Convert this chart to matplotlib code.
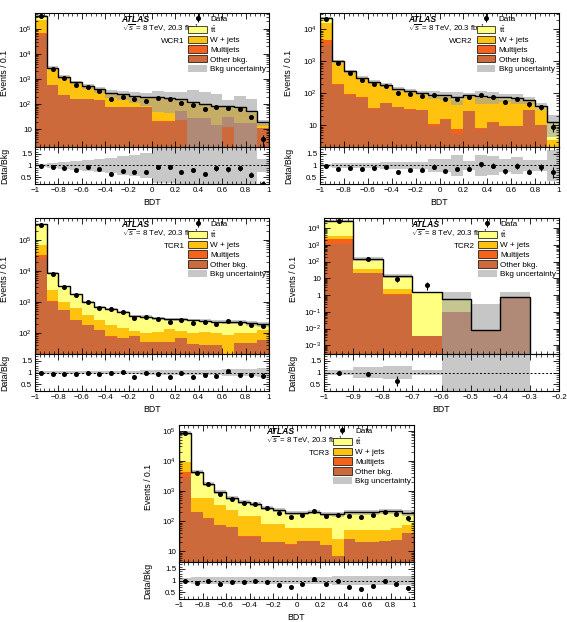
import numpy as np
import matplotlib
matplotlib.use("Agg")
import matplotlib.pyplot as plt
from matplotlib.patches import Patch
from matplotlib.ticker import FixedLocator, FuncFormatter, LogLocator, AutoMinorLocator, NullFormatter

plt.rcParams['font.family'] = ['Liberation Sans', 'DejaVu Sans']
plt.rcParams['mathtext.fontset'] = 'custom'
plt.rcParams['mathtext.rm'] = 'Liberation Sans'
plt.rcParams['mathtext.it'] = 'Liberation Sans:italic'
plt.rcParams['mathtext.bf'] = 'Liberation Sans:bold'

# ---- binning ----
edges_full = np.linspace(-1, 1, 21)
edges_tcr2 = np.linspace(-1, -0.2, 9)

# ---- WCR1 ----
wcr1_other = [59000, 560, 230, 155, 155, 150, 75, 75, 75, 75, 20, 20, 52, 27, 27, 14.5, 31, 17, 17, 10.7]
wcr1_multijet = [11000, 15, 6, 4, 3, 2, 2, 1.5, 1, 1, 1, 1, 1, 0.5, 0.5, 0.5, 0.5, 0.5, 0.3, 0.2]
wcr1_wjets = [160000, 2000, 890, 520, 322, 203, 168, 146, 114, 92, 147, 132, 89, 77, 62, 61, 42, 48, 29, 5.7]
wcr1_ttbar = [110000, 250, 100, 60, 45, 35, 25, 22, 20, 18, 18, 17, 16, 12, 10, 9, 9, 8, 6, 2]
wcr1_data = [330000, 2600, 1080, 590, 483, 332, 167, 189, 155, 136, 177, 160, 111, 96, 64, 75, 69, 65, 31, 4]
wcr1_unc = [0.08, 0.12, 0.15, 0.18, 0.22, 0.27, 0.32, 0.4, 0.47, 0.53, 0.75, 0.75, 0.85, 2.0, 2.0, 2.0, 0.85, 2.0, 2.0, 0.3]

# ---- WCR2 ----
wcr2_other = [3200, 187, 91, 72, 33, 50, 37, 31, 29, 9.3, 15, 5.5, 27.5, 7.9, 11.8, 9.3, 9.3, 29.5, 10, 1.0]
wcr2_multijet = [1400, 5, 3, 2, 1.5, 1, 1, 1, 1, 2, 1, 2, 0.5, 0.5, 0.5, 0.5, 0.5, 0.5, 0.3, 0.2]
wcr2_wjets = [10900, 718, 376, 206, 178, 116, 93, 78, 61, 66, 58, 52, 49, 64, 55, 53, 50, 26, 19, 2.2]
wcr2_ttbar = [6500, 100, 20, 30, 15, 13, 9, 9, 12, 14, 13, 17, 10, 9, 10, 11, 9, 5, 10.5, 9.3]
wcr2_data = [21300, 869, 441, 267, 200, 166, 99, 95, 85, 87, 67, 65, 75, 86, 76, 55, 67, 45, 37, 9]
wcr2_unc = [0.08, 0.12, 0.12, 0.12, 0.12, 0.13, 0.13, 0.15, 0.15, 0.3, 0.3, 0.45, 0.2, 0.45, 0.4, 0.3, 0.35, 0.25, 0.25, 0.65]

# ---- TCR1 ----
tcr1_other = [26000, 1020, 540, 263, 181, 125, 76, 67, 80, 50, 50, 52, 67, 43, 41, 41, 20, 46, 46, 59]
tcr1_multijet = [7000, 20, 10, 5, 3, 2, 2, 1, 1, 1, 1, 1, 1, 1, 1, 1, 1, 1, 1, 1]
tcr1_wjets = [34000, 1410, 480, 362, 198, 136, 103, 81, 35, 51, 59, 81, 48, 58, 68, 55, 65, 50, 50, 65]
tcr1_ttbar = [253000, 6050, 2140, 1150, 648, 447, 419, 321, 249, 236, 187, 143, 161, 161, 140, 136, 147, 136, 108, 70]
tcr1_data = [307000, 7990, 2980, 1655, 989, 660, 582, 489, 296, 338, 276, 224, 266, 213, 225, 200, 249, 210, 185, 168]
tcr1_unc = [0.05, 0.05, 0.05, 0.05, 0.05, 0.06, 0.06, 0.07, 0.08, 0.09, 0.1, 0.1, 0.1, 0.1, 0.1, 0.12, 0.14, 0.15, 0.17, 0.18]

# ---- TCR2 ----
tcr2_other = [1100, 20, 1.0, 0.0035, 0.1, 0.008, 0.8, 0]
tcr2_multijet = [1100, 0.5, 0.1, 0, 0, 0, 0, 0]
tcr2_wjets = [960, 15.5, 1.2, 0, 0, 0, 0, 0]
tcr2_ttbar = [24300, 109, 12.2, 1.45, 0.47, 0, 0, 0]
tcr2_data = [27000, 138, 9, 4, 0, 0, 0, 0]
tcr2_unc = [0.12, 0.25, 0.3, 0.1, 1.5, 34, 1.0, 0]

# ---- TCR3 ----
tcr3_other = [2950, 203, 122, 73, 64, 30, 30, 20, 20, 16.6, 21.5, 21.5, 15.8, 6.8, 26, 20, 20, 21.5, 23, 39]
tcr3_multijet = [1420, 5, 3, 2, 1, 1, 1, 0.5, 0.5, 0.5, 0.5, 0.5, 0.5, 0.3, 0.5, 0.5, 0.5, 0.5, 0.5, 0.5]
tcr3_wjets = [4930, 397, 480, 265, 165, 114, 114, 62, 62, 44, 39, 39, 45, 19, 25, 31, 31, 30, 37, 33]
tcr3_ttbar = [75700, 3765, 1085, 595, 375, 290, 220, 200, 147, 131, 126, 142, 117, 144, 151, 151, 151, 161, 152, 119]
tcr3_data = [83300, 3890, 1690, 804, 557, 409, 358, 269, 182, 134, 161, 219, 153, 165, 144, 132, 156, 207, 177, 131]
tcr3_unc = [0.12, 0.15, 0.15, 0.15, 0.15, 0.15, 0.15, 0.15, 0.15, 0.17, 0.17, 0.17, 0.17, 0.2, 0.2, 0.2, 0.2, 0.2, 0.2, 0.2]

ticks_full = [-1, -0.8, -0.6, -0.4, -0.2, 0, 0.2, 0.4, 0.6, 0.8, 1]
ticks_tcr2 = [-1, -0.9, -0.8, -0.7, -0.6, -0.5, -0.4, -0.3, -0.2]

C_TT = '#ffff80'
C_WJ = '#ffc20e'
C_MJ = '#f5621b'
C_OT = '#cc6a3b'
C_UNC = '#a0a0a0'

FW, FH = 567, 622


def fmt_log(v, pos):
    n = int(round(np.log10(v)))
    if n == 0:
        return '1'
    if n == 1:
        return '10'
    return r'$10^{%d}$' % n


def fmt_x(v, pos):
    return ('%g' % round(v, 2)).replace('-', '\u2212')


def draw(fig, box, edges, tt, wj, mj, ot, data, unc, ylim, region, xticks):
    left, right, top, mid, bottom = box
    ax = fig.add_axes([left / FW, 1 - mid / FH, (right - left) / FW, (mid - top) / FH])
    rx = fig.add_axes([left / FW, 1 - bottom / FH, (right - left) / FW, (bottom - mid) / FH])

    centers = 0.5 * (edges[:-1] + edges[1:])
    floor = ylim[0] * 0.01
    base = np.zeros(len(centers))
    for vals, col in [(ot, C_OT), (mj, C_MJ), (wj, C_WJ), (tt, C_TT)]:
        upper = base + np.asarray(vals, float)
        ax.stairs(np.maximum(upper, floor), edges, baseline=np.maximum(base, floor),
                  fill=True, color=col, lw=0)
        base = upper
    total = base
    unc = np.asarray(unc, float)
    ax.stairs(np.maximum(total * (1 + unc), floor), edges,
              baseline=np.maximum(total * (1 - unc), floor),
              fill=True, color=C_UNC, alpha=0.6, lw=0)
    ax.stairs(np.maximum(total, floor), edges, baseline=floor, color='k', lw=1.0)

    data = np.asarray(data, float)
    err = np.sqrt(data)
    m = data > 0
    eb = ax.errorbar(centers[m], data[m], yerr=err[m], fmt='o', color='k',
                     ms=2.6, lw=0.8, capsize=0)

    # ratio panel
    rx.stairs(1 + unc, edges, baseline=1 - unc, fill=True, color='#c8c8c8', lw=0)
    rx.axhline(1, color='k', ls=(0, (2, 2)), lw=0.7)
    safe = np.where(total > 0, total, 1)
    r = data / safe
    re = err / safe
    show = m & (total > 0) & (r < 1.8)
    rx.errorbar(centers[show], r[show], yerr=re[show], fmt='o', color='k',
                ms=2.6, lw=0.8, capsize=0)

    for a in (ax, rx):
        a.set_xlim(edges[0], xticks[-1])
        a.xaxis.set_major_locator(FixedLocator(xticks))
        a.xaxis.set_minor_locator(AutoMinorLocator(5))
        a.tick_params(which='both', direction='in', top=True, right=True, labelsize=5.8, pad=2)
        a.tick_params(which='major', length=4, width=0.6)
        a.tick_params(which='minor', length=2, width=0.5)
        for s in a.spines.values():
            s.set_linewidth(0.8)

    ax.set_yscale('log')
    ax.set_ylim(*ylim)
    ax.yaxis.set_major_locator(LogLocator(base=10, numticks=30))
    ax.yaxis.set_minor_locator(LogLocator(base=10, subs=np.arange(2, 10), numticks=30))
    ax.yaxis.set_major_formatter(FuncFormatter(fmt_log))
    ax.yaxis.set_minor_formatter(NullFormatter())
    ax.tick_params(labelbottom=False)

    rx.set_ylim(0.2, 1.8)
    rx.yaxis.set_major_locator(FixedLocator([0.5, 1, 1.5]))
    rx.yaxis.set_major_formatter(FuncFormatter(lambda v, p: '%g' % v))
    rx.yaxis.set_minor_locator(AutoMinorLocator(5))
    rx.xaxis.set_major_formatter(FuncFormatter(fmt_x))

    ax.set_ylabel('Events / 0.1', fontsize=6.3)
    ax.yaxis.set_label_coords(-0.112, 0.55)
    rx.set_ylabel('Data/Bkg', fontsize=6.3)
    rx.yaxis.set_label_coords(-0.112, 0.5)
    rx.set_xlabel('BDT', fontsize=6.3, labelpad=3)

    ax.text(0.37, 0.95, 'ATLAS', transform=ax.transAxes, fontsize=6.2, fontweight='bold',
            fontstyle='italic', va='center', ha='left')
    ax.text(0.37, 0.88, r'$\sqrt{s}$ = 8 TeV, 20.3 fb$^{-1}$', transform=ax.transAxes,
            fontsize=5.6, va='center', ha='left')
    ax.text(0.64, 0.79, region, transform=ax.transAxes, fontsize=5.8, va='center', ha='right')

    handles = [eb,
               Patch(fc=C_TT, ec='k', lw=0.5),
               Patch(fc=C_WJ, ec='k', lw=0.5),
               Patch(fc=C_MJ, ec='k', lw=0.5),
               Patch(fc=C_OT, ec='k', lw=0.5),
               Patch(fc=C_UNC, alpha=0.6, lw=0)]
    labels = ['Data', r'$\mathrm{t\bar{t}}$', 'W + jets', 'Multijets', 'Other bkg.', 'Bkg uncertainty']
    ax.legend(handles, labels, loc='upper left', bbox_to_anchor=(0.655, 0.99),
              fontsize=5.9, frameon=False, handlelength=2.3, handleheight=1.0,
              labelspacing=0.15, handletextpad=0.4, borderpad=0, borderaxespad=0)


fig = plt.figure(figsize=(FW / 100, FH / 100), dpi=100)

draw(fig, (35, 269, 13, 147, 184), edges_full, wcr1_ttbar, wcr1_wjets, wcr1_multijet,
     wcr1_other, wcr1_data, wcr1_unc, (1.95, 4.3e5), 'WCR1', ticks_full)
draw(fig, (320, 559, 13, 147, 184), edges_full, wcr2_ttbar, wcr2_wjets, wcr2_multijet,
     wcr2_other, wcr2_data, wcr2_unc, (2.1, 3.2e4), 'WCR2', ticks_full)
draw(fig, (35, 269, 218, 354, 391), edges_full, tcr1_ttbar, tcr1_wjets, tcr1_multijet,
     tcr1_other, tcr1_data, tcr1_unc, (21, 5.1e5), 'TCR1', ticks_full)
draw(fig, (324, 559, 218, 354, 391), edges_tcr2, tcr2_ttbar, tcr2_wjets, tcr2_multijet,
     tcr2_other, tcr2_data, tcr2_unc, (3e-4, 4e4), 'TCR2', ticks_tcr2)
draw(fig, (179, 414, 425, 562, 599), edges_full, tcr3_ttbar, tcr3_wjets, tcr3_multijet,
     tcr3_other, tcr3_data, tcr3_unc, (4.4, 1.55e5), 'TCR3', ticks_full)

fig.savefig('out.png', dpi=100)
